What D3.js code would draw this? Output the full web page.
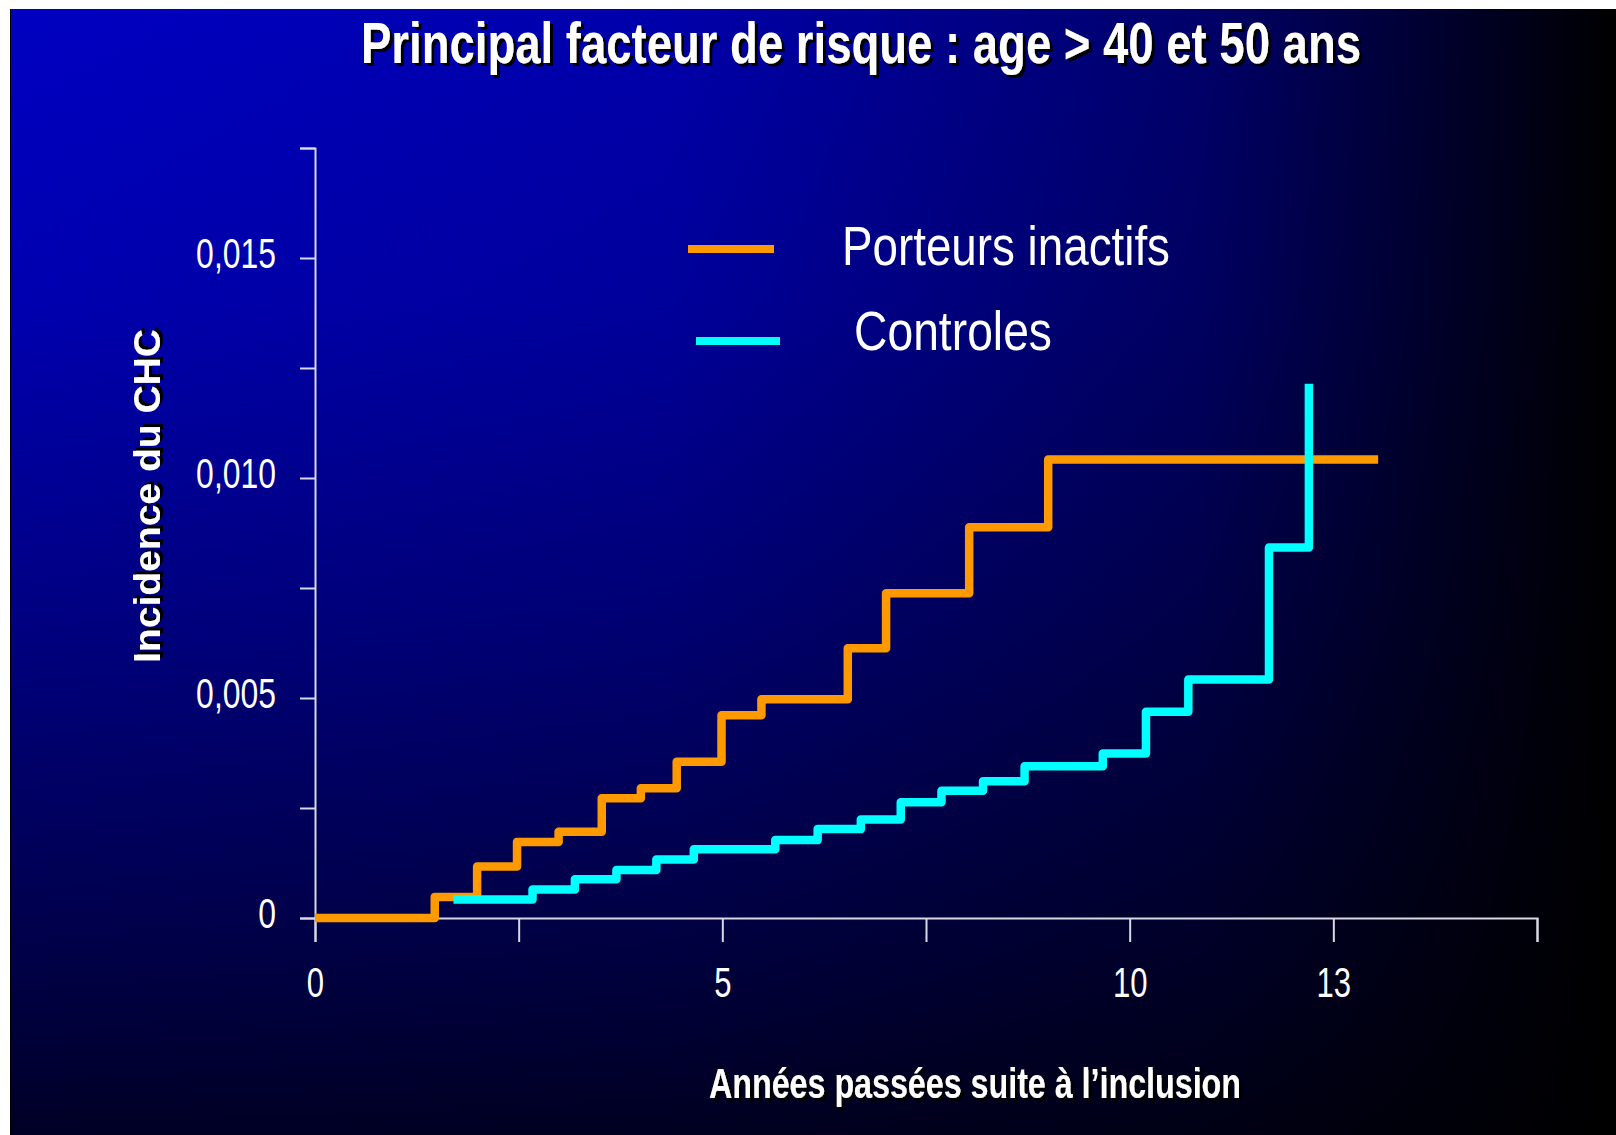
<!DOCTYPE html>
<html>
<head>
<meta charset="utf-8">
<script src="https://cdn.jsdelivr.net/npm/d3@7"></script>
<style>
  html, body { margin: 0; padding: 0; background: #fff; }
  svg { display: block; }
  text { font-family: "Liberation Sans", Arial, sans-serif; fill: #fff; }
</style>
</head>
<body>
<div id="chart"></div>
<script>
// ---- data ----
var seriesNames = ["Porteurs inactifs", "Controles"];
var seriesColors = ["#ff9900", "#00ffff"];

// Porteurs inactifs: step times (years) and cumulative incidence
var porteursT = [0, 1.47, 1.99, 2.48, 2.99, 3.52, 4.00, 4.44, 4.99, 5.48, 6.54, 7.01, 8.03, 9.00, 13.05];
var porteursV = [0, 0.00048, 0.00117, 0.00173, 0.00196, 0.00272, 0.00295, 0.00355, 0.00461, 0.00497, 0.00613, 0.00738, 0.00888, 0.01042, 0.01042];

// Controles
var controlesT = [1.70, 2.67, 3.19, 3.70, 4.19, 4.65, 5.65, 6.17, 6.70, 7.19, 7.69, 8.20, 8.71, 9.67, 10.20, 10.72, 11.71, 12.20];
var controlesV = [0.00042, 0.00065, 0.00088, 0.00109, 0.00133, 0.00156, 0.00177, 0.00202, 0.00224, 0.00263, 0.00289, 0.00311, 0.00345, 0.00374, 0.00469, 0.00542, 0.00842, 0.01214];

var xTicks = [0, 2.5, 5, 7.5, 10, 12.5, 15];
var xTickLabels = ["0", "", "5", "", "10", "13", ""];
var yTicks = [0, 0.0025, 0.005, 0.0075, 0.01, 0.0125, 0.015, 0.0175];
var yTickLabels = ["0", "", "0,005", "", "0,010", "", "0,015", ""];

var title = "Principal facteur de risque : age > 40 et 50 ans";
var xTitle = "Années passées suite à l’inclusion";
var yTitle = "Incidence du CHC";

// ---- layout ----
var width = 1616, height = 1135;
var plot = { left: 315, right: 1537, top: 148, bottom: 918 };

var svg = d3.select("#chart").append("svg")
    .attr("width", width)
    .attr("height", height);

var defs = svg.append("defs");

var vg = defs.append("linearGradient").attr("id", "bgV")
    .attr("x1", 0).attr("y1", 0).attr("x2", 0).attr("y2", 1);
[[0, "#0000c2"], [0.26, "#0000b0"], [0.53, "#000084"], [0.84, "#000048"], [1, "#000026"]]
  .forEach(function(s){ vg.append("stop").attr("offset", s[0]).attr("stop-color", s[1]); });

var hg = defs.append("linearGradient").attr("id", "bgH")
    .attr("x1", 0).attr("y1", 0).attr("x2", 1).attr("y2", 0);
[[0, 0], [0.41, 0.12], [0.74, 0.45], [0.87, 0.72], [1, 1]]
  .forEach(function(s){ hg.append("stop").attr("offset", s[0]).attr("stop-color", "#000").attr("stop-opacity", s[1]); });

var shadow = defs.append("filter").attr("id", "shadow")
    .attr("x", "-10%").attr("y", "-50%").attr("width", "120%").attr("height", "200%");
shadow.append("feDropShadow").attr("dx", 3).attr("dy", 3).attr("stdDeviation", 0.6)
    .attr("flood-color", "#000").attr("flood-opacity", 1);

// background (white margin top / left, thin black edge)
svg.append("rect").attr("width", width).attr("height", height).attr("fill", "#fff");
svg.append("rect").attr("x", 11).attr("y", 9).attr("width", width - 11).attr("height", height - 9).attr("fill", "url(#bgV)");
svg.append("rect").attr("x", 11).attr("y", 9).attr("width", width - 11).attr("height", height - 9).attr("fill", "url(#bgH)");
svg.append("rect").attr("x", 10).attr("y", 9).attr("width", 1).attr("height", height - 9).attr("fill", "#000");

// squeeze text horizontally (the source is a narrowed slide)
function squeeze(sel, k) {
  sel.each(function(){
    var w = this.getComputedTextLength();
    d3.select(this).attr("textLength", w * k).attr("lengthAdjust", "spacingAndGlyphs");
  });
}
function fitTo(sel, w) {
  sel.attr("textLength", w).attr("lengthAdjust", "spacingAndGlyphs");
}

// ---- scales ----
var xScale = d3.scaleLinear().domain([0, 15]).range([plot.left, plot.right]);
var yScale = d3.scaleLinear().domain([0, 0.0175]).range([plot.bottom, plot.top]);

// ---- axes ----
var xAxis = svg.append("g")
    .attr("transform", "translate(0," + plot.bottom + ")")
    .call(d3.axisBottom(xScale).tickValues(xTicks).tickSize(24)
      .tickFormat(function(d, i){ return xTickLabels[i]; }));

var yAxis = svg.append("g")
    .attr("transform", "translate(" + plot.left + ",0)")
    .call(d3.axisLeft(yScale).tickValues(yTicks).tickSize(15)
      .tickFormat(function(d, i){ return yTickLabels[i]; }));

[xAxis, yAxis].forEach(function(ax){
  ax.select(".domain").attr("stroke", "#d8d8e4").attr("stroke-width", 2);
  ax.selectAll(".tick line").attr("stroke", "#d8d8e4").attr("stroke-width", 2);
  ax.selectAll(".tick text")
    .attr("fill", "#fff")
    .style("font-family", "'Liberation Sans', Arial, sans-serif")
    .style("font-size", "42px");
});

xAxis.selectAll(".tick text").attr("y", 79).attr("dy", 0).call(squeeze, 0.74);
yAxis.selectAll(".tick text").attr("x", -39).attr("dy", 9).call(squeeze, 0.76);

// ---- step lines ----
var line = d3.line()
    .x(function(d){ return xScale(d[0]); })
    .y(function(d){ return yScale(d[1]); })
    .curve(d3.curveStepAfter);

var series = [
  d3.zip(porteursT, porteursV),
  d3.zip(controlesT, controlesV)
];

svg.selectAll(".curve")
  .data(series)
  .enter().append("path")
    .attr("class", "curve")
    .attr("d", line)
    .attr("fill", "none")
    .attr("stroke", function(d, i){ return seriesColors[i]; })
    .attr("stroke-width", 8.5)
    .attr("stroke-linejoin", "round");

// ---- legend ----
var legend = [
  { x1: 688, x2: 774, y: 249, tx: 842, ty: 265, w: 328 },
  { x1: 696, x2: 780, y: 341, tx: 854, ty: 350, w: 198 }
];
legend.forEach(function(l, i){
  svg.append("line")
    .attr("x1", l.x1).attr("x2", l.x2).attr("y1", l.y).attr("y2", l.y)
    .attr("stroke", seriesColors[i]).attr("stroke-width", 8);
  svg.append("text")
    .attr("x", l.tx).attr("y", l.ty)
    .style("font-size", "55px")
    .text(seriesNames[i])
    .call(fitTo, l.w);
});

// ---- titles ----
svg.append("text")
    .attr("x", 861).attr("y", 63)
    .attr("text-anchor", "middle")
    .attr("filter", "url(#shadow)")
    .style("font-size", "58px").style("font-weight", "bold")
    .text(title)
    .call(fitTo, 1000);

svg.append("text")
    .attr("x", 975).attr("y", 1098)
    .attr("text-anchor", "middle")
    .attr("filter", "url(#shadow)")
    .style("font-size", "42px").style("font-weight", "bold")
    .text(xTitle)
    .call(fitTo, 532);

svg.append("text")
    .attr("transform", "translate(160,496) rotate(-90)")
    .attr("text-anchor", "middle")
    .attr("filter", "url(#shadow)")
    .style("font-size", "37px").style("font-weight", "bold")
    .text(yTitle)
    .call(fitTo, 334);
</script>
</body>
</html>
